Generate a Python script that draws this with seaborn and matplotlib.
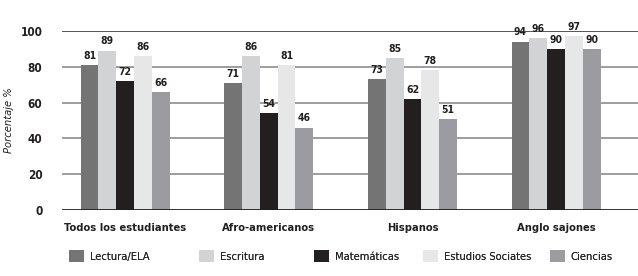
import pandas as pd
import matplotlib
matplotlib.use("Agg")
import matplotlib.pyplot as plt
import seaborn as sns
from matplotlib.patches import Patch

# Data
groups = ["Todos los estudiantes", "Afro-americanos", "Hispanos", "Anglo sajones"]
subjects = ["Lectura/ELA", "Escritura", "Matemáticas", "Estudios Sociates", "Ciencias"]
lectura = [81, 71, 73, 94]
escritura = [89, 86, 85, 96]
matematicas = [72, 54, 62, 90]
estudios = [86, 81, 78, 97]
ciencias = [66, 46, 51, 90]
colors = ["#747474", "#d2d3d5", "#231f20", "#e6e7e8", "#9a9c9f"]

rows = []
for subj, vals in zip(subjects, [lectura, escritura, matematicas, estudios, ciencias]):
    for g, v in zip(groups, vals):
        rows.append({"grupo": g, "materia": subj, "valor": v})
df = pd.DataFrame(rows)

sns.set_style("white")
plt.rcParams["font.family"] = ["DejaVu Sans"]
plt.rcParams["font.stretch"] = "condensed"

fig = plt.figure(figsize=(6.38, 2.76), dpi=100)
ax = fig.add_axes([0.097, 0.239, 0.903, 0.649])

for y in [20, 40, 60, 80]:
    ax.axhline(y, color="#8c8c8c", lw=1.2, zorder=0)
ax.axhline(100, color="#3a3a3a", lw=1.2, zorder=0)

sns.barplot(data=df, x="grupo", y="valor", hue="materia", order=groups,
            hue_order=subjects, palette=colors, width=0.62, gap=0,
            saturation=1, linewidth=0, legend=False, ax=ax, zorder=2)

for cont in ax.containers:
    ax.bar_label(cont, fmt="%d", padding=3, fontsize=7.5, fontweight="bold", color="#231f20")

ax.axhline(0, color="#231f20", lw=2, zorder=3)
ax.set_xlim(-0.44, 3.57)
ax.set_ylim(0, 100)
ax.set_yticks([0, 20, 40, 60, 80, 100])
ax.tick_params(axis="y", length=0, pad=14, labelsize=8.5)
ax.tick_params(axis="x", length=0, pad=9, labelsize=8)
for lbl in ax.get_yticklabels() + ax.get_xticklabels():
    lbl.set_fontweight("bold")
    lbl.set_color("#231f20")
ax.set_xlabel("")
ax.set_ylabel("Porcentaje %", fontsize=8, style="italic", color="#231f20")
ax.yaxis.set_label_coords(-0.083, 0.5)
for s in ax.spines.values():
    s.set_visible(False)

# legend entries placed individually (uneven spacing like the reference)
legend_x = [62, 192, 307, 416, 543]
for subj, c, px in zip(subjects, colors, legend_x):
    leg = fig.legend([Patch(facecolor=c, edgecolor="none")], [subj],
                     loc="lower left", bbox_to_anchor=(px / 638, 0.025),
                     frameon=False, fontsize=8, handlelength=1.4, handleheight=1.4,
                     handletextpad=0.5, borderaxespad=0.2)
    fig.add_artist(leg)

fig.savefig("out.png", dpi=100)
